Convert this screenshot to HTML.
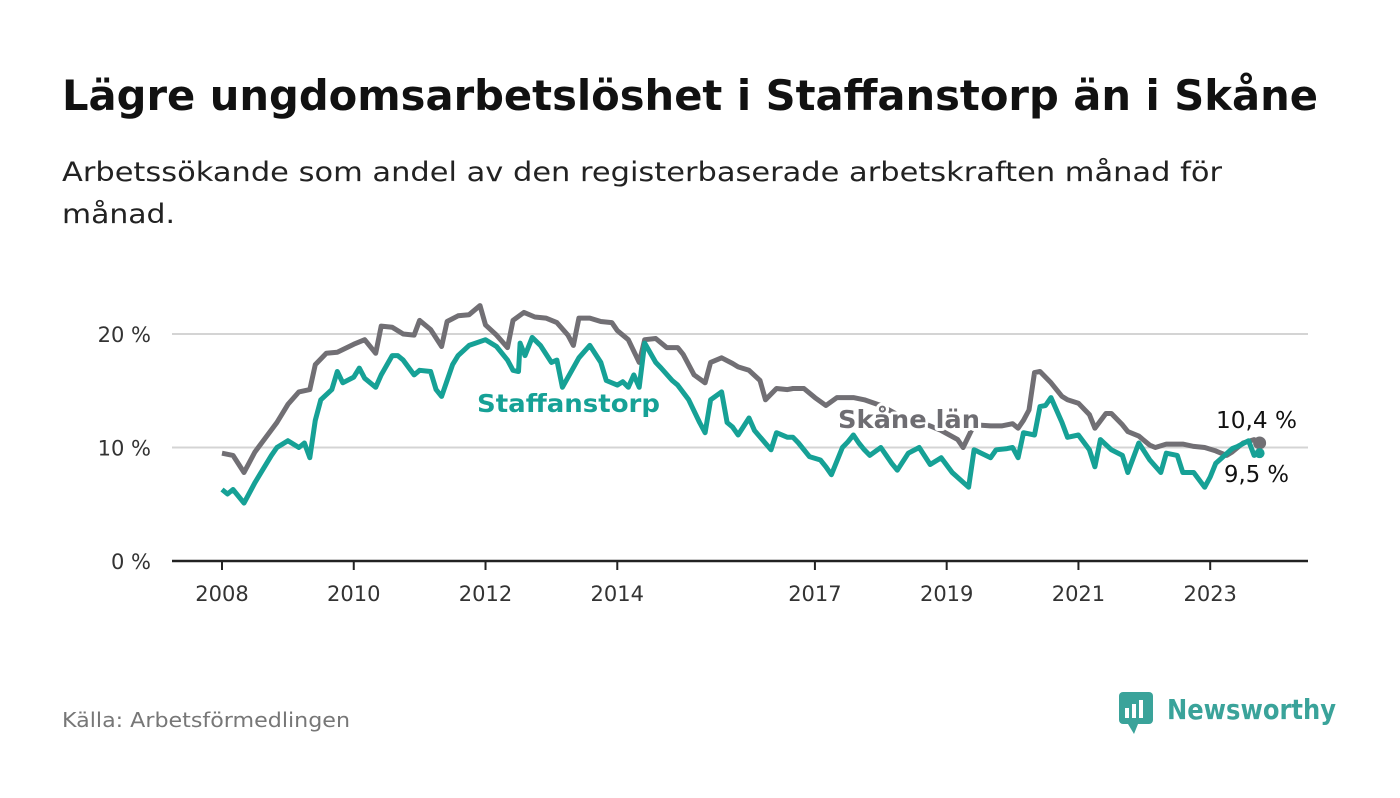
<!DOCTYPE html>
<html><head><meta charset="utf-8"><style>
body{margin:0;background:#fff;width:1400px;height:794px;overflow:hidden;font-family:"DejaVu Sans","Liberation Sans",sans-serif}
svg text{font-family:"DejaVu Sans","Liberation Sans",sans-serif}
</style></head><body>
<svg width="1400" height="794" xmlns="http://www.w3.org/2000/svg">
<text x="62" y="110" font-size="42" font-weight="bold" fill="#111" textLength="1256" lengthAdjust="spacingAndGlyphs">Lägre ungdomsarbetslöshet i Staffanstorp än i Skåne</text>
<text x="62" y="181" font-size="27" fill="#222" textLength="1160" lengthAdjust="spacingAndGlyphs">Arbetssökande som andel av den registerbaserade arbetskraften månad för</text>
<text x="62" y="223" font-size="27" fill="#222" textLength="113" lengthAdjust="spacingAndGlyphs">månad.</text>
<g id="grid"></g><g id="lines"></g><g id="labels"></g>
<text x="62" y="727" font-size="20" fill="#777" textLength="288" lengthAdjust="spacingAndGlyphs">Källa: Arbetsförmedlingen</text>
<g>
<rect x="1119" y="692" width="34" height="32" rx="4" fill="#3aa39a"/>
<path d="M1128 724 l6 10 l4 -10z" fill="#3aa39a"/>
<rect x="1125" y="708" width="4" height="10" fill="#fff"/><rect x="1132" y="704" width="4" height="14" fill="#fff"/><rect x="1139" y="700" width="4" height="18" fill="#fff"/>
<text x="1167" y="719" font-size="28" font-weight="bold" fill="#3aa39a" textLength="169" lengthAdjust="spacingAndGlyphs">Newsworthy</text>
</g>
</svg>
<script>
const yTicks=[0,10,20];
const yTickLabels=["0 %","10 %","20 %"];
const xTickYears=[2008,2010,2012,2014,2017,2019,2021,2023];
const skaneMonths=[0,2,4,6,8,10,12,14,16,17,19,21,24,26,28,29,31,33,35,36,38,40,41,43,45,47,48,50,52,53,55,57,59,61,63,64,65,67,69,71,72,74,76,77,79,81,83,84,86,88,89,91,93,94,96,98,99,101,103,104,106,108,110,112,113,115,117,120,123,127,131,134,135,137,140,142,144,145,146,147,148,149,151,153,154,156,158,159,161,162,164,165,167,169,170,172,175,177,179,181,183,184,186,188,189];
const skaneValues=[9.5,9.3,7.8,9.6,10.9,12.2,13.8,14.9,15.1,17.3,18.3,18.4,19.1,19.5,18.3,20.7,20.6,20.0,19.9,21.2,20.4,18.9,21.1,21.6,21.7,22.5,20.8,19.9,18.8,21.2,21.9,21.5,21.4,21.0,19.9,19.0,21.4,21.4,21.1,21.0,20.3,19.5,17.5,19.5,19.6,18.8,18.8,18.2,16.4,15.7,17.5,17.9,17.4,17.1,16.8,15.9,14.2,15.2,15.1,15.2,15.2,14.4,13.7,14.4,14.4,14.4,14.2,13.7,12.9,12.3,11.5,10.7,10.0,12.0,11.9,11.9,12.1,11.7,12.4,13.3,16.6,16.7,15.7,14.5,14.2,13.9,12.9,11.7,13.0,13.0,12.0,11.4,11.0,10.2,10.0,10.3,10.3,10.1,10.0,9.7,9.3,9.6,10.4,10.7,10.4];
const staffMonths=[0,1,2,4,6,7,9,10,12,14,15,16,17,18,20,21,22,24,25,26,28,29,31,32,33,35,36,38,39,40,42,43,45,48,49,50,52,53,54,54.3,55.2,56.5,58,60,61,62,65,67,69,70,72,73,74,75,76,77,79,80,82,83,85,87,88,89,91,92,93,94,96,97,100,101,103,104,105,107,109,110,111,113,114,115,116,117,118,120,122,123,125,127,129,131,133,136,137,140,141,143,144,145,146,148,149,150,151,153,154,156,158,159,160,162,164,165,167,169,171,172,174,175,177,179,180,181,184,185,187,188,189];
const staffValues=[6.3,5.9,6.3,5.1,6.9,7.7,9.3,10.0,10.6,10.0,10.4,9.1,12.4,14.2,15.1,16.7,15.7,16.2,17.0,16.1,15.3,16.4,18.1,18.1,17.7,16.4,16.8,16.7,15.1,14.5,17.3,18.1,19.0,19.5,19.2,18.9,17.7,16.8,16.7,19.2,18.1,19.7,19.0,17.5,17.7,15.3,17.9,19.0,17.5,15.9,15.5,15.8,15.3,16.4,15.3,19.2,17.5,17.0,15.9,15.5,14.2,12.2,11.3,14.2,14.9,12.2,11.8,11.1,12.6,11.5,9.8,11.3,10.9,10.9,10.4,9.2,8.9,8.3,7.6,10.0,10.5,11.1,10.4,9.8,9.3,10.0,8.6,8.0,9.5,10.0,8.5,9.1,7.8,6.5,9.8,9.1,9.8,9.9,10.0,9.1,11.3,11.1,13.6,13.7,14.4,12.2,10.9,11.1,9.8,8.3,10.7,9.8,9.3,7.8,10.4,8.9,7.8,9.5,9.3,7.8,7.8,6.5,7.4,8.6,9.9,10.1,10.6,9.3,9.5];
const NS="http://www.w3.org/2000/svg";
const xM=m=>222+m*5.49;
const xYear=y=>xM((y-2008)*12);
const yV=v=>561-v*11.35;
function mk(t,a,p){const e=document.createElementNS(NS,t);for(const k in a)e.setAttribute(k,a[k]);if(p)p.appendChild(e);return e;}
const grid=document.getElementById('grid');
yTicks.forEach((t,i)=>{
  const l=mk('line',{x1:172,x2:1308,y1:yV(t),y2:yV(t),stroke:t===0?'#222':'#d4d4d4','stroke-width':t===0?2.5:2},grid);
  
  
  const tx=mk('text',{x:151,y:yV(t)+8,'text-anchor':'end','font-size':21,fill:'#333'},grid);
  tx.textContent=yTickLabels[i];
  
  
});
xTickYears.forEach(y=>{
  const x=xYear(y);
  const l=mk('line',{x1:x,x2:x,y1:561,y2:570,stroke:'#222','stroke-width':2},grid);
  
  
  const tx=mk('text',{x:x,y:601,'text-anchor':'middle','font-size':21,fill:'#333'},grid);
  tx.textContent=y;
  
  
});
const lines=document.getElementById('lines');
function path(ms,vs){return ms.map((m,i)=>(i?'L':'M')+xM(m).toFixed(1)+' '+yV(vs[i]).toFixed(1)).join(' ');}
const g=mk('path',{d:path(skaneMonths,skaneValues),fill:'none',stroke:'#716f74','stroke-width':5,'stroke-linejoin':'round'},lines);


const s=mk('path',{d:path(staffMonths,staffValues),fill:'none',stroke:'#16a196','stroke-width':5,'stroke-linejoin':'round'},lines);


const lastS=skaneMonths.length-1, lastT=staffMonths.length-1;
const d=mk('circle',{cx:xM(skaneMonths[lastS]),cy:yV(skaneValues[lastS]),r:6.5,fill:'#716f74'},lines);


const d2=mk('circle',{cx:xM(staffMonths[lastT]),cy:yV(staffValues[lastT]),r:5,fill:'#16a196'},lines);


const lab=document.getElementById('labels');
function label(txt,x,y,col,name,bold,size,len){
  const t=mk('text',{x:x,y:y,'font-size':size,'font-weight':bold?'bold':'normal',fill:col,stroke:'#fff','stroke-width':bold?6:4,'paint-order':'stroke','stroke-linejoin':'round',textLength:len,lengthAdjust:'spacingAndGlyphs'},lab);
  t.textContent=txt;
  
  
}
label('Staffanstorp',477,412,'#16a196','staffanstorp-series-label',true,25,183);
label('Skåne län',838,428,'#6e6d72','skane-series-label',true,25,142);
label(String(skaneValues[lastS]).replace('.',',')+' %',1216,428,'#111','skane-end-value',false,23,81);
label(String(staffValues[lastT]).replace('.',',')+' %',1224,482,'#111','staffanstorp-end-value',false,23,65);
</script>
</body></html>
